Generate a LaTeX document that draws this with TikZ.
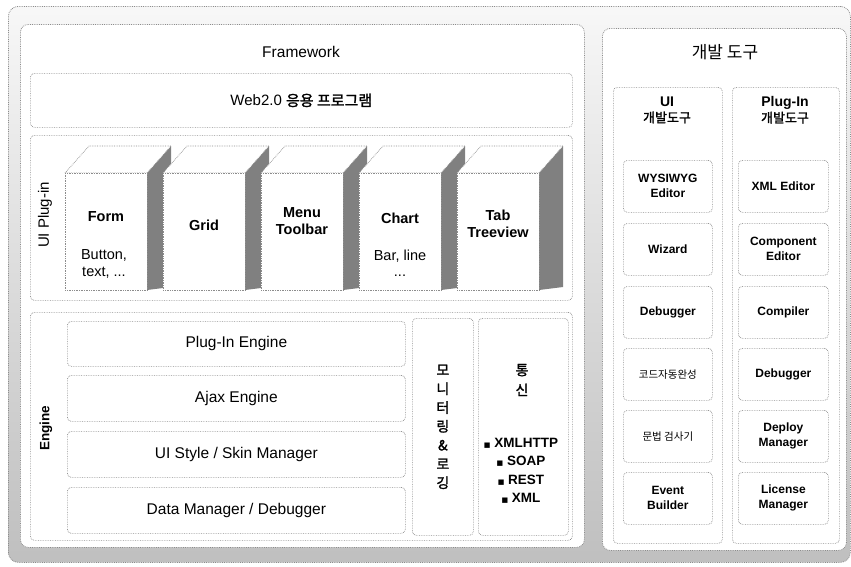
\documentclass[tikz,border=0pt]{standalone}
\usepackage{fontspec}
\setmainfont{Liberation Sans}
\newfontfamily\kr[AutoFakeBold=1.6]{Noto Sans CJK KR}
\newfontfamily\symfont{DejaVu Sans}

\definecolor{edge}{gray}{0.55}
\definecolor{sidegray}{gray}{0.5}

\tikzset{
  frame box/.style={draw=edge, densely dotted, line width=0.8pt, rounded corners=10pt,
    inner sep=0pt, anchor=north west, top color=gray!6, bottom color=gray!50},
  panel/.style={draw=edge, densely dotted, line width=0.8pt, rounded corners=8pt,
    fill=white, inner sep=0pt, anchor=north west},
  box/.style={draw=edge, densely dotted, line width=0.7pt, rounded corners=4pt,
    fill=white, inner sep=0pt, anchor=north west},
  face/.style={draw=edge, densely dotted, line width=0.7pt, fill=white,
    inner sep=0pt, anchor=north west},
  cubetop/.style={draw=edge, densely dotted, line width=0.7pt, fill=white},
  title/.style={font=\fontsize{15.5}{19}\selectfont},
  subtitle/.style={font=\bfseries\fontsize{14}{16}\selectfont, align=center},
  cubelbl/.style={font=\bfseries\fontsize{14.5}{17.5}\selectfont, align=center},
  cubesub/.style={font=\fontsize{14.5}{17.5}\selectfont, align=center},
  rowtxt/.style={font=\fontsize{15.5}{18}\selectfont},
  itemtxt/.style={font=\bfseries\fontsize{12}{15}\selectfont, align=center},
  itemkr/.style={font=\kr\fontsize{10.5}{14}\selectfont, align=center},
}

% one plug-in block drawn as a box in oblique view: side, top, then front face
\newcommand\plugcube[2]{%
  \fill[sidegray] ({#2+82},173) -- ({#2+106},146) -- ({#2+106},287) -- ({#2+82},290) -- cycle;
  \filldraw[cubetop] (#2,173) -- ({#2+24},146) -- ({#2+106},146) -- ({#2+82},173) -- cycle;
  \node[face, minimum width=82pt, minimum height=117pt] (#1) at (#2,173) {};
}

\begin{document}
\begin{tikzpicture}[x=1pt,y=-1pt]
\useasboundingbox (0,0) rectangle (851,566);

% outer frame
\node[frame box, minimum width=842pt, minimum height=556pt] (frame) at (8,6) {};

% ---------------- Framework panel ----------------
\node[panel, minimum width=564pt, minimum height=523pt] (fw) at (20,24) {};
\node[title] (fwtitle) at (301,52) {Framework};

\node[box, minimum width=542pt, minimum height=54pt,
      font=\fontsize{15}{17}\selectfont] (web) at (30,73)
  {Web2.0 {\kr\bfseries 응용 프로그램}};

% UI plug-in area
\node[box, minimum width=542pt, minimum height=165pt] (ui) at (30,135) {};
\node[rotate=90, font=\fontsize{15}{17}\selectfont] (uilbl) at (45,215) {UI Plug-in};

\plugcube{form}{65}
\plugcube{grid}{163}
\plugcube{menu}{261}
\plugcube{chart}{359}
\plugcube{tab}{457}

\node[cubelbl] (formt) at (106,217) {Form};
\node[cubesub] (forms) at (104,264) {Button,\\text, ...};
\node[cubelbl] (gridt) at (204,225) {Grid};
\node[cubelbl] (menut) at (302,221) {Menu\\Toolbar};
\node[cubelbl] (chartt) at (400,218) {Chart};
\node[cubesub] (charts) at (400,256) {Bar, line};
\node[cubesub] (chartd) at (400,276) {...};
\node[cubelbl] (tabt) at (498,224) {Tab\\Treeview};

% engine area
\node[box, minimum width=542pt, minimum height=228pt] (eng) at (30,312) {};
\node[rotate=90, font=\bfseries\fontsize{13.5}{16}\selectfont] (englbl) at (46,428) {Engine};

\node[box, rowtxt, minimum width=338pt, minimum height=45pt] (r1) at (67,321) {Plug-In Engine};
\node[box, rowtxt, minimum width=338pt, minimum height=46pt] (r2) at (67,375) {Ajax Engine};
\node[box, rowtxt, minimum width=338pt, minimum height=46pt] (r3) at (67,431) {UI Style / Skin Manager};
\node[box, rowtxt, minimum width=338pt, minimum height=46pt] (r4) at (67,487) {Data Manager / Debugger};

\node[box, minimum width=61pt, minimum height=217pt] (mon) at (412,318) {};
\node[align=center, font=\kr\bfseries\fontsize{14}{18.8}\selectfont] (montxt) at (mon.center)
  {모\\니\\터\\링\\\&\\로\\깅};

\node[box, minimum width=90pt, minimum height=217pt] (com) at (478,318) {};
\node[align=center, font=\kr\bfseries\fontsize{14}{20}\selectfont] (comtxt) at (522,380) {통\\신};
\node[align=center, font=\bfseries\fontsize{13.5}{18.5}\selectfont] (comlist) at (521,471)
  {{\symfont\fontsize{7}{10}\selectfont ■} XMLHTTP\\
   {\symfont\fontsize{7}{10}\selectfont ■} SOAP\\
   {\symfont\fontsize{7}{10}\selectfont ■} REST\\
   {\symfont\fontsize{7}{10}\selectfont ■} XML};

% ---------------- development tools panel ----------------
\node[panel, minimum width=244pt, minimum height=522pt] (dev) at (602,28) {};
\node[font=\kr\fontsize{17}{20}\selectfont] (devtitle) at (725,52) {개발 도구};

\node[box, minimum width=109pt, minimum height=456pt] (uicol) at (613,87) {};
\node[subtitle] (uicolt) at (667,110) {UI\\{\kr\fontsize{13}{16}\selectfont 개발도구}};
\node[box, minimum width=107pt, minimum height=456pt] (plcol) at (732,87) {};
\node[subtitle] (plcolt) at (785,110) {Plug-In\\{\kr\fontsize{13}{16}\selectfont 개발도구}};

\node[box, itemtxt, minimum width=89pt, minimum height=52pt] (u1) at (623,160) {WYSIWYG\\Editor};
\node[box, itemtxt, minimum width=89pt, minimum height=52pt] (u2) at (623,223) {Wizard};
\node[box, itemtxt, minimum width=89pt, minimum height=52pt] (u3) at (623,286) {Debugger};
\node[box, itemkr, minimum width=89pt, minimum height=52pt] (u4) at (623,348) {코드자동완성};
\node[box, itemkr, minimum width=89pt, minimum height=52pt] (u5) at (623,410) {문법 검사기};
\node[box, itemtxt, minimum width=89pt, minimum height=52pt] (u6) at (623,472) {Event\\Builder};

\node[box, itemtxt, minimum width=90pt, minimum height=52pt] (p1) at (738,160) {XML Editor};
\node[box, itemtxt, minimum width=90pt, minimum height=52pt] (p2) at (738,223) {Component\\Editor};
\node[box, itemtxt, minimum width=90pt, minimum height=52pt] (p3) at (738,286) {Compiler};
\node[box, itemtxt, minimum width=90pt, minimum height=52pt] (p4) at (738,348) {Debugger};
\node[box, itemtxt, minimum width=90pt, minimum height=52pt] (p5) at (738,410) {Deploy\\Manager};
\node[box, itemtxt, minimum width=90pt, minimum height=52pt] (p6) at (738,472) {License\\Manager};
\end{tikzpicture}
\end{document}
